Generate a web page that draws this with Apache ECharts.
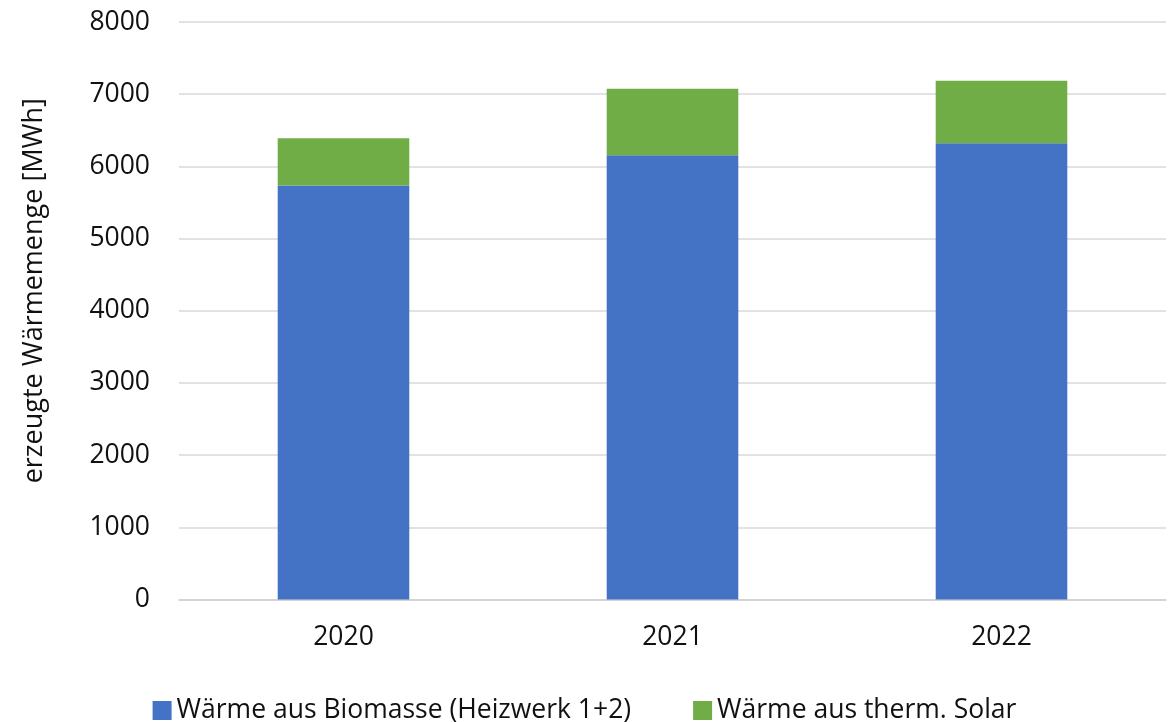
<!DOCTYPE html>
<html>
<head>
<meta charset="utf-8">
<script src="https://cdn.jsdelivr.net/npm/echarts@6/dist/echarts.min.js"></script>
<style>
  html, body { margin: 0; padding: 0; background: #fff; }
  #main { width: 1169px; height: 722px; }
</style>
</head>
<body>
<div id="main"></div>
<script>
// data
var years = ['2020', '2021', '2022'];
var biomasse = [5735, 6155, 6320];
var solar = [655, 920, 865];
var seriesNames = ['Wärme aus Biomasse (Heizwerk 1+2)', 'Wärme aus therm. Solar'];

var font = '"Open Sans", "DejaVu Sans", sans-serif';
var chart = echarts.init(document.getElementById('main'));

var option = {
  animation: false,
  backgroundColor: '#fff',
  textStyle: { fontFamily: font, color: '#111' },
  grid: { left: 179, right: 3, top: 22, bottom: 122.5 },
  legend: {
    top: 692,
    left: 'center',
    itemWidth: 19,
    itemHeight: 19,
    itemGap: 62,
    icon: 'rect',
    textStyle: { fontSize: 26.5, color: '#111', fontFamily: font },
    data: seriesNames
  },
  xAxis: {
    type: 'category',
    data: years,
    axisLine: { lineStyle: { color: '#d0d0d0', width: 1.5 } },
    axisTick: { show: false },
    axisLabel: { fontSize: 26.5, color: '#111', margin: 24 }
  },
  yAxis: {
    type: 'value',
    min: 0,
    max: 8000,
    interval: 1000,
    name: 'erzeugte Wärmemenge [MWh]',
    nameLocation: 'middle',
    nameGap: 131,
    nameRotate: 90,
    nameTextStyle: { fontSize: 27, color: '#111', padding: [0, 0, 0, 40] },
    axisLabel: {
      fontSize: 26.5,
      color: '#111',
      margin: 29,
      formatter: function (v) { return String(v); }
    },
    splitLine: { lineStyle: { color: '#d9d9d9', width: 1.5 } }
  },
  series: [
    {
      name: seriesNames[0],
      type: 'bar',
      stack: 'w',
      barWidth: '40%',
      itemStyle: { color: '#4472C4' },
      data: biomasse
    },
    {
      name: seriesNames[1],
      type: 'bar',
      stack: 'w',
      barWidth: '40%',
      itemStyle: { color: '#70AD47' },
      data: solar
    }
  ]
};

chart.setOption(option);
</script>
</body>
</html>
